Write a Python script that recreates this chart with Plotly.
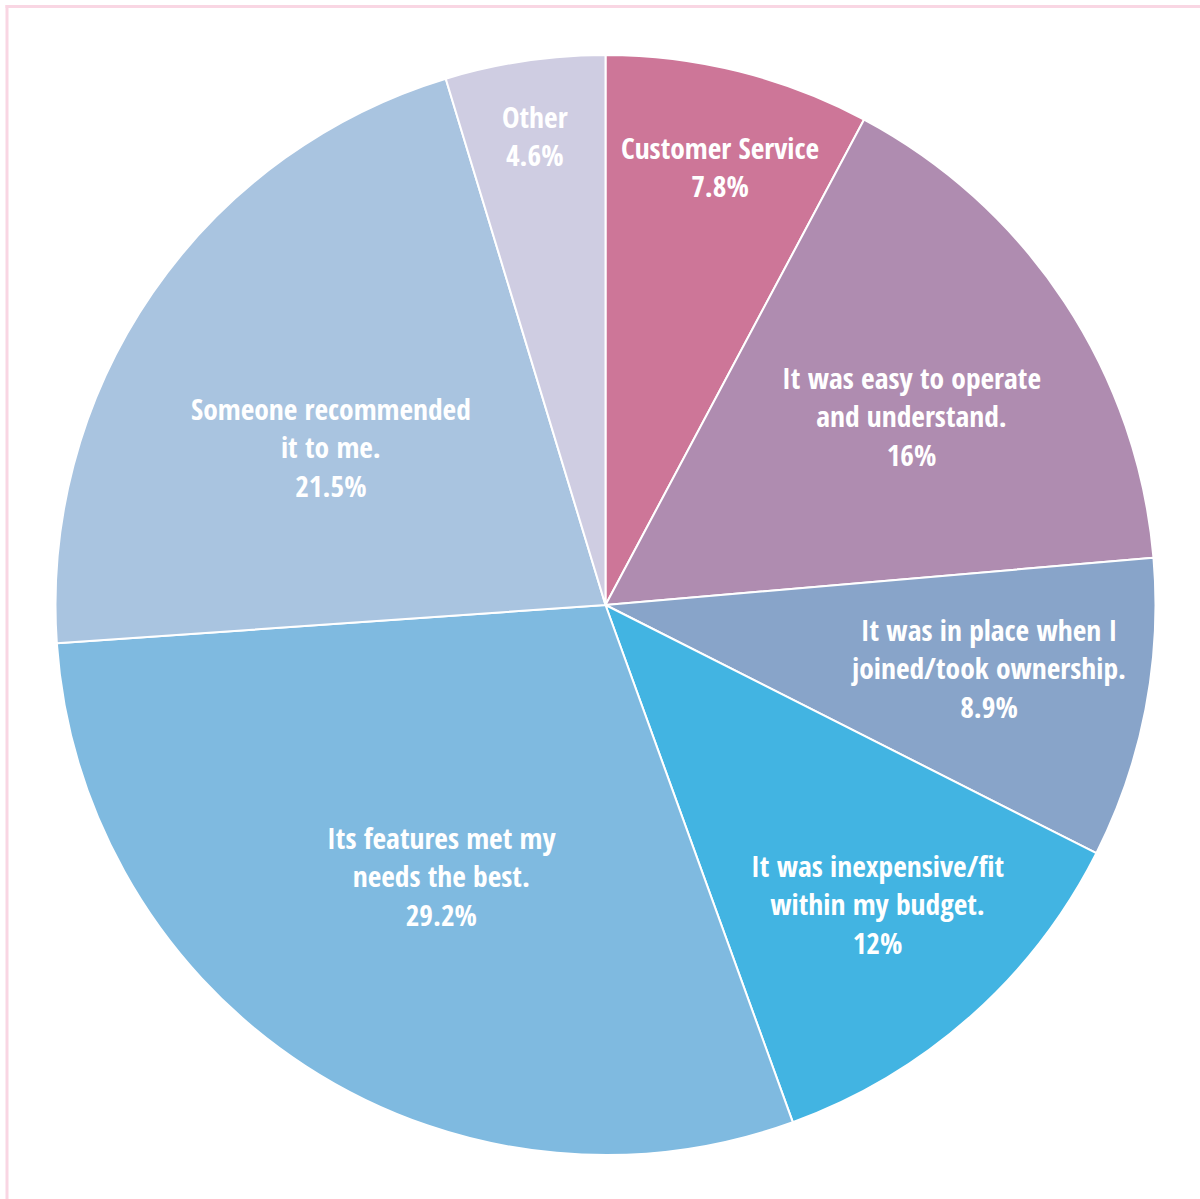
import math
import plotly.graph_objects as go

labels = [
    "Customer Service",
    "It was easy to operate<br>and understand.",
    "It was in place when I<br>joined/took ownership.",
    "It was inexpensive/fit<br>within my budget.",
    "Its features met my<br>needs the best.",
    "Someone recommended<br>it to me.",
    "Other",
]
values = [7.79, 15.84, 8.82, 12.02, 29.42, 21.42, 4.69]
# percentages as printed on the chart
pct_text = ["7.8%", "16%", "8.9%", "12%", "29.2%", "21.5%", "4.6%"]
colors = ["#cd7698", "#af8cb0", "#88a4c9", "#42b4e2", "#7fbae0", "#a9c4e0", "#cfcde2"]

# label placement style: radial fraction of the radius and angular nudge (deg) from slice bisector
label_radius = [0.821, 0.653, 0.706, 0.738, 0.578, 0.575, 0.859]
label_nudge = [0.66, 1.98, -1.24, -0.52, -2.09, -4.91, -0.08]

FONT = "Open Sans Condensed, Liberation Sans Narrow, DejaVu Sans Condensed, sans-serif"
FSIZE = 29.5
Y_TWEAK = -2

L, R, T, B = 50, 39, 55, 44
W, H = 1200, 1199
pw, ph = W - L - R, H - T - B
CX = L + pw / 2
CY = T + ph / 2
RAD = min(pw, ph) / 2


def px_x(x):
    return (x - L) / pw


def px_y(y):
    return (H - B - y) / ph


fig = go.Figure(go.Pie(
    labels=[lab.replace("<br>", " ") for lab in labels],
    values=values,
    sort=False,
    direction="clockwise",
    rotation=0,
    marker=dict(colors=colors, line=dict(color="white", width=2)),
    textinfo="none",
    showlegend=False,
    hoverinfo="label",
))

annotations = []
total = sum(values)
cum = 0.0
for lab, v, pt, rf, nd in zip(labels, values, pct_text, label_radius, label_nudge):
    mid = (cum + v / 2) / total * 360 + nd
    cum += v
    a = math.radians(mid)
    x = CX + rf * RAD * math.sin(a)
    y = CY - rf * RAD * math.cos(a) + Y_TWEAK
    annotations.append(dict(
        x=px_x(x), y=px_y(y), xref="paper", yref="paper",
        text=lab + "<br>" + pt, showarrow=False,
        xanchor="center", yanchor="middle", align="center",
        font=dict(family=FONT, size=FSIZE, color="white", weight="bold"),
    ))

fig.update_layout(
    width=W, height=H,
    margin=dict(l=L, r=R, t=T, b=B),
    paper_bgcolor="white",
    plot_bgcolor="white",
    annotations=annotations,
    shapes=[
        dict(type="line", xref="paper", yref="paper",
             x0=px_x(7), x1=px_x(7), y0=px_y(5), y1=px_y(1199),
             line=dict(color="#f9d6e3", width=3)),
        dict(type="line", xref="paper", yref="paper",
             x0=px_x(5.5), x1=px_x(1200), y0=px_y(6.5), y1=px_y(6.5),
             line=dict(color="#f9d6e3", width=3)),
    ],
)

fig.write_html("out.html", config={"displayModeBar": False},
               post_script="document.body.style.margin='0px';")
